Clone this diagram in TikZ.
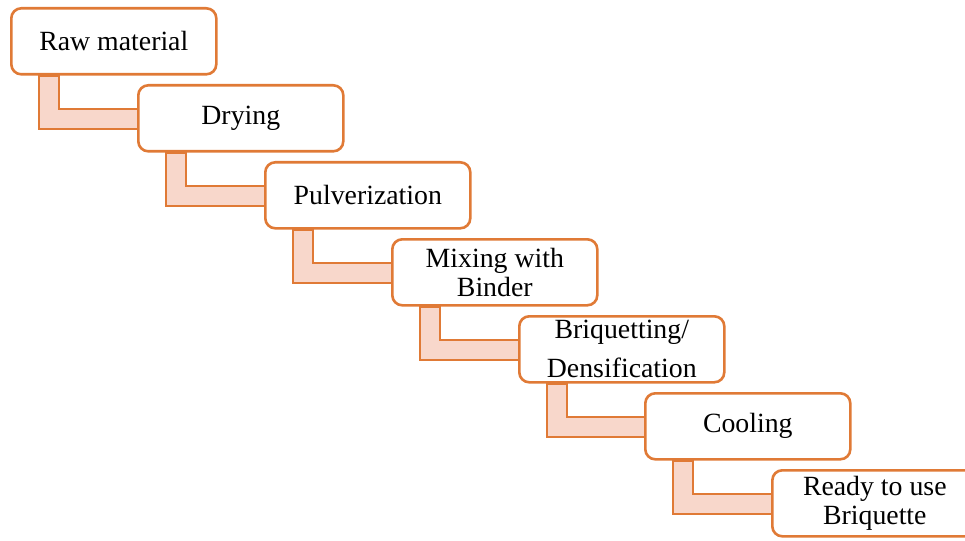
\documentclass[tikz,border=0pt]{standalone}
\usepackage{fontspec}
\setmainfont{Liberation Serif}
\usetikzlibrary{calc}
\definecolor{boxline}{HTML}{E07A36}
\definecolor{bandfill}{HTML}{F8D7CB}
\tikzset{
  stepbox/.style={draw=boxline, line width=2.6pt, fill=white, rounded corners=10pt,
    minimum width=205pt, minimum height=66pt, inner sep=0pt, anchor=north west,
    align=center, font=\fontsize{27.8}{29}\selectfont},
  band/.style={draw=boxline, line width=2pt, fill=bandfill, line join=miter}
}
\newcommand{\bandlink}[2]{%
  \path[band] ($(#1.south west)+(29,0)$) -- ($(#1.south west)+(49,0)$)
    |- ($(#2.west)+(1,-9.5)$) -- ($(#2.west)+(1,10.5)$) -| cycle;}
\begin{document}
\begin{tikzpicture}[x=1pt,y=-1pt]
\useasboundingbox (0,0) rectangle (965,540);
\clip (0,0) rectangle (965,540);
\coordinate (p1) at (10,7);
\coordinate (p2) at (137,84);
\coordinate (p3) at (264,161);
\coordinate (p4) at (391,238);
\coordinate (p5) at (518,315);
\coordinate (p6) at (644,392);
\coordinate (p7) at (771,469);
\path node[stepbox, draw=none, fill=none] (b1) at (p1) {}
      node[stepbox, draw=none, fill=none] (b2) at (p2) {}
      node[stepbox, draw=none, fill=none] (b3) at (p3) {}
      node[stepbox, draw=none, fill=none] (b4) at (p4) {}
      node[stepbox, draw=none, fill=none] (b5) at (p5) {}
      node[stepbox, draw=none, fill=none] (b6) at (p6) {}
      node[stepbox, draw=none, fill=none] (b7) at (p7) {};
\bandlink{b1}{b2}
\bandlink{b2}{b3}
\bandlink{b3}{b4}
\bandlink{b4}{b5}
\bandlink{b5}{b6}
\bandlink{b6}{b7}
\node[stepbox] (s1) at (p1) {Raw material};
\node[stepbox] (s2) at (p2) {Drying};
\node[stepbox] (s3) at (p3) {Pulverization};
\node[stepbox] (s4) at (p4) {Mixing with\\Binder};
\node[stepbox] (s5) at (p5) {Briquetting/\\[10pt]Densification};
\node[stepbox] (s6) at (p6) {Cooling};
\node[stepbox] (s7) at (p7) {Ready to use\\Briquette};
\end{tikzpicture}
\end{document}
